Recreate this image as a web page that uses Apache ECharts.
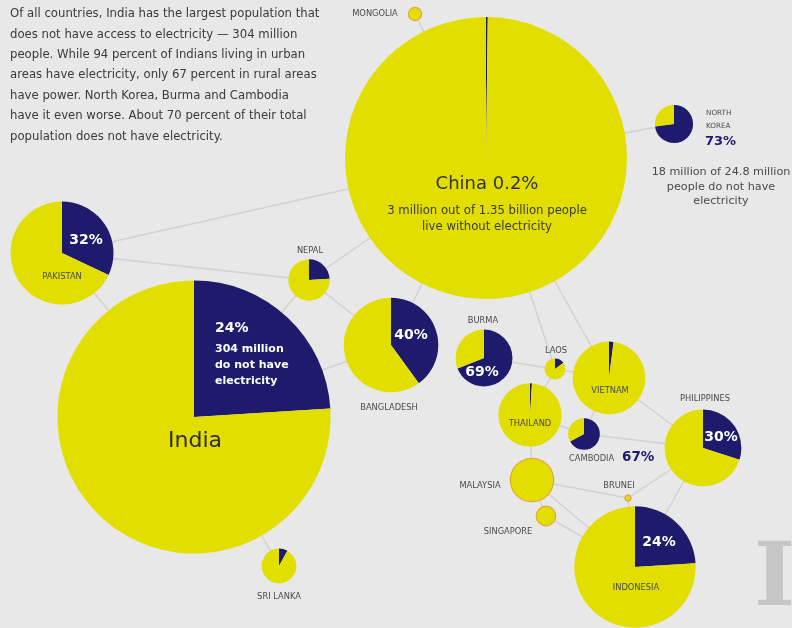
<!DOCTYPE html>
<html><head><meta charset="utf-8">
<script src="https://cdn.jsdelivr.net/npm/echarts@6/dist/echarts.min.js"></script>
<style>html,body{margin:0;padding:0;background:#e8e8e8}#c{width:792px;height:628px}</style>
</head><body><div id="c"></div>
<script>
// ---- data ----
const countries = ['China','India','Pakistan','Nepal','Bangladesh','Burma','Laos','Vietnam','Thailand','Cambodia','Malaysia','Singapore','Brunei','Philippines','Indonesia','Sri Lanka','North Korea','Mongolia'];
const populationMillions = [1350,1267,180,29,152,55,7.5,90,68,17,32,6.5,0.6,100,250,20.5,24.8,3];
const percentWithoutPower = [0.2,24,32,24,40,69,15,2,1,67,0,0,0,30,24,8,73,0];
// layout position of each country bubble (axis units)
const mapX = [486,194,62,309,391,484,555,609,530,584,532,546,628,703,635,279,674,415];
const mapY = [158,417,253,280,345,358,369,378,415,434,480,516,498,448,567,566,124,14];
const links = [
  ['Mongolia','China'],['China','North Korea'],['China','Pakistan'],['China','Nepal'],['China','Bangladesh'],
  ['China','Laos'],['China','Vietnam'],['Pakistan','Nepal'],['Pakistan','India'],['Nepal','India'],
  ['Nepal','Bangladesh'],['India','Bangladesh'],['India','Sri Lanka'],['Burma','Laos'],['Laos','Vietnam'],
  ['Laos','Thailand'],['Thailand','Cambodia'],['Cambodia','Vietnam'],['Thailand','Malaysia'],
  ['Cambodia','Philippines'],['Vietnam','Philippines'],['Malaysia','Singapore'],['Malaysia','Indonesia'],
  ['Malaysia','Brunei'],['Singapore','Indonesia'],['Brunei','Indonesia'],['Brunei','Philippines'],
  ['Philippines','Indonesia']
];
const outlined = ['Malaysia','Singapore','Brunei','Mongolia'];
const paragraph = [
  'Of all countries, India has the largest population that',
  'does not have access to electricity \u2014 304 million',
  'people. While 94 percent of Indians living in urban',
  'areas have electricity, only 67 percent in rural areas',
  'have power. North Korea, Burma and Cambodia',
  'have it even worse. About 70 percent of their total',
  'population does not have electricity.'
];

// ---- styles ----
const YELLOW = '#e2df00';
const NAVY = '#1f1b6c';
const LINK = '#d2d2d2';
const radiusPerSqrtPop = 141 / Math.sqrt(1350);

const chart = echarts.init(document.getElementById('c'), null, {renderer:'canvas'});
const idx = n => countries.indexOf(n);

chart.setOption({
  backgroundColor: '#e8e8e8',
  animation: false,
  grid: {left:0, right:0, top:0, bottom:0},
  xAxis: {type:'value', min:0, max:792, show:false},
  yAxis: {type:'value', min:0, max:628, inverse:true, show:false},
  series: [{
    type:'lines', coordinateSystem:'cartesian2d', silent:true, z:1,
    lineStyle:{color:LINK, width:1.5, opacity:1},
    data: links.map(([a,b]) => ({coords:[[mapX[idx(a)],mapY[idx(a)]],[mapX[idx(b)],mapY[idx(b)]]]}))
  }]
});

const pies = countries.map((name,i) => {
  const c = chart.convertToPixel({gridIndex:0}, [mapX[i], mapY[i]]);
  const rUnits = radiusPerSqrtPop * Math.sqrt(populationMillions[i]);
  const e = chart.convertToPixel({gridIndex:0}, [mapX[i] + rUnits, mapY[i]]);
  const r = e[0] - c[0];
  const pct = percentWithoutPower[i];
  const border = outlined.includes(name);
  const data = [];
  if (pct > 0) data.push({name:name+' without', value:pct, itemStyle:{color:NAVY}});
  data.push({name:name+' with', value:100-pct, itemStyle:{color:YELLOW, borderColor: border ? '#e8a63a' : YELLOW, borderWidth: border ? 1.2 : 0}});
  return {
    type:'pie', center:c, radius:[0,r], startAngle:90, clockwise:true, z:3,
    silent:true, label:{show:false}, labelLine:{show:false}, emphasis:{disabled:true},
    itemStyle:{borderWidth:0}, data
  };
});

const FONT = '"DejaVu Sans", Verdana, sans-serif';
function T(text, x, y, size, color, align, weight) {
  return {type:'text', x, y, z:100, silent:true,
    style:{text, fill:color, font:(weight||'normal')+' '+size+'px '+FONT, textAlign:align||'center', textVerticalAlign:'middle'}};
}
const G = [];
const paraY = [14,35,55,75,96,116,137];
paragraph.forEach((t,k) => G.push(T(t, 10, paraY[k], 11.7, '#3a3a3a', 'left')));
const CN = '#4a4a4a';
const S = 8.3;
G.push(T('MONGOLIA', 375, 14, S, CN));
G.push(T('China 0.2%', 487, 184, 18, '#333333'));
G.push(T('3 million out of 1.35 billion people', 487, 211, 11.7, '#3a3a3a'));
G.push(T('live without electricity', 487, 227, 11.7, '#3a3a3a'));
G.push(T('NORTH', 706, 113, 7.2, CN, 'left'));
G.push(T('KOREA', 706, 126, 7.2, CN, 'left'));
G.push(T('73%', 705, 142, 13, NAVY, 'left', 'bold'));
G.push(T('18 million of 24.8 million', 721, 172, 11.2, '#4a4a4a'));
G.push(T('people do not have', 721, 187, 11.2, '#4a4a4a'));
G.push(T('electricity', 721, 201, 11.2, '#4a4a4a'));
G.push(T('32%', 86, 240, 14, '#ffffff', 'center', 'bold'));
G.push(T('PAKISTAN', 62, 277, S, CN));
G.push(T('NEPAL', 310, 251, S, CN));
G.push(T('24%', 215, 328, 14, '#ffffff', 'left', 'bold'));
G.push(T('304 million', 215, 349, 11, '#ffffff', 'left', 'bold'));
G.push(T('do not have', 215, 365, 11, '#ffffff', 'left', 'bold'));
G.push(T('electricity', 215, 381, 11, '#ffffff', 'left', 'bold'));
G.push(T('India', 195, 441, 22, '#2f2f2f'));
G.push(T('40%', 411, 335, 14, '#ffffff', 'center', 'bold'));
G.push(T('BANGLADESH', 389, 408, S, CN));
G.push(T('BURMA', 483, 321, S, CN));
G.push(T('69%', 482, 372, 14, '#ffffff', 'center', 'bold'));
G.push(T('LAOS', 556, 351, S, CN));
G.push(T('VIETNAM', 610, 391, S, CN));
G.push(T('THAILAND', 530, 424, S, CN));
G.push(T('CAMBODIA', 569, 459, S, CN, 'left'));
G.push(T('67%', 622, 457, 13.5, NAVY, 'left', 'bold'));
G.push(T('PHILIPPINES', 705, 399, S, CN));
G.push(T('30%', 721, 437, 14, '#ffffff', 'center', 'bold'));
G.push(T('MALAYSIA', 480, 486, S, CN));
G.push(T('BRUNEI', 619, 486, S, CN));
G.push(T('SINGAPORE', 508, 532, S, CN));
G.push(T('24%', 659, 542, 14, '#ffffff', 'center', 'bold'));
G.push(T('INDONESIA', 636, 588, S, CN));
G.push(T('SRI LANKA', 279, 597, S, CN));
G.push({type:'text', left:754, top:538, z:100, silent:true,
  style:{text:'I', fill:'#c6c6c6', font:'bold 88px "DejaVu Serif", serif'}});

chart.setOption({series: chart.getOption().series.concat(pies), graphic: G});
</script></body></html>
